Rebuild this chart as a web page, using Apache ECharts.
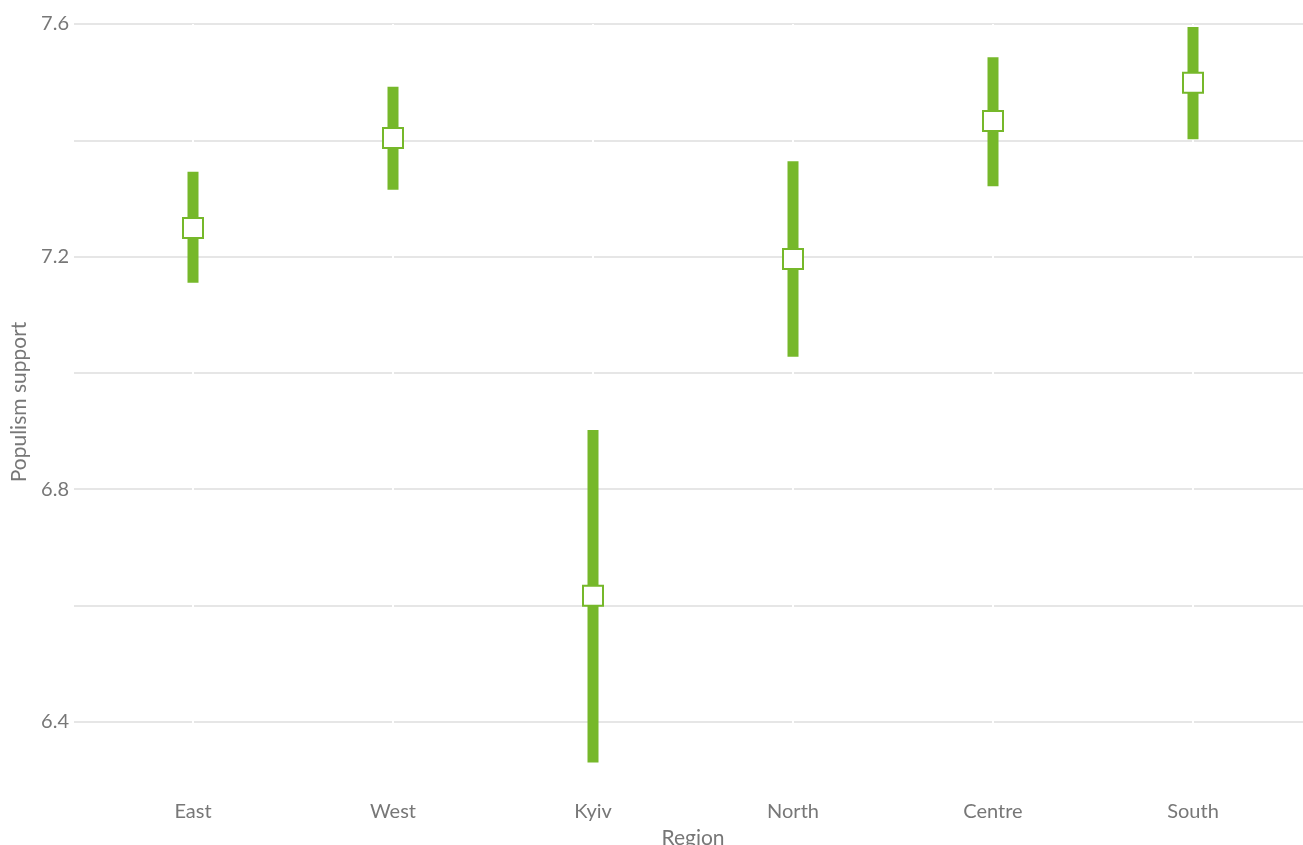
<!DOCTYPE html>
<html>
<head>
<meta charset="utf-8">
<script src="https://cdn.jsdelivr.net/npm/echarts@6/dist/echarts.min.js"></script>
<style>
  html, body { margin: 0; padding: 0; background: #fff; overflow: hidden; }
  #chart { width: 1303px; height: 845px; }
</style>
</head>
<body>
<div id="chart"></div>
<script>
// Regions and estimated populism support with confidence interval bounds
const regions = ['East', 'West', 'Kyiv', 'North', 'Centre', 'South'];
const estimate = [7.249, 7.404, 6.617, 7.196, 7.433, 7.499];
const lower = [7.155, 7.315, 6.330, 7.028, 7.321, 7.402];
const upper = [7.346, 7.492, 6.902, 7.364, 7.543, 7.595];

// Axis ticks: gridlines every 0.2, labels every 0.4
const gridTicks = [6.4, 6.6, 6.8, 7.0, 7.2, 7.4, 7.6];
const labelTicks = [6.4, 6.8, 7.2, 7.6];

const green = '#76b82a';
const textColor = '#777777';
const fontFamily = 'Lato, "Open Sans", sans-serif';

const positions = regions.map((_, i) => i);

const chart = echarts.init(document.getElementById('chart'));
chart.setOption({
  animation: false,
  backgroundColor: '#ffffff',
  grid: {
    left: 74, right: -9, top: 24, bottom: 65,
    containLabel: false,
    outerBoundsMode: 'none'
  },
  xAxis: {
    type: 'value',
    min: -0.595,
    max: 5.595,
    z: 1,
    name: 'Region',
    nameLocation: 'middle',
    nameGap: 48,
    nameTextStyle: { color: textColor, fontSize: 21, fontFamily: fontFamily, verticalAlign: 'top' },
    axisLine: { show: false },
    axisTick: { show: false, customValues: positions },
    axisLabel: {
      customValues: positions,
      color: textColor,
      fontSize: 20,
      fontFamily: fontFamily,
      margin: 22,
      formatter: v => regions[Math.round(v)]
    },
    splitLine: { show: true, lineStyle: { color: '#ffffff', width: 2 } }
  },
  yAxis: {
    type: 'value',
    min: 6.3,
    max: 7.6,
    z: 0,
    name: 'Populism support',
    nameLocation: 'middle',
    nameRotate: 90,
    nameGap: 44,
    nameTextStyle: { color: textColor, fontSize: 21, fontFamily: fontFamily },
    axisLine: { show: false },
    axisTick: { show: false, customValues: gridTicks },
    axisLabel: {
      customValues: labelTicks,
      color: textColor,
      fontSize: 20,
      fontFamily: fontFamily,
      margin: 5,
      formatter: v => v.toFixed(1)
    },
    splitLine: { show: true, lineStyle: { color: '#e6e6e6', width: 2 } }
  },
  series: [
    {
      // confidence interval bars
      type: 'custom',
      z: 2,
      data: positions.map(i => [i, lower[i], upper[i]]),
      encode: { x: 0, y: [1, 2] },
      renderItem: function (params, api) {
        const lo = api.coord([api.value(0), api.value(1)]);
        const hi = api.coord([api.value(0), api.value(2)]);
        const w = 11;
        return {
          type: 'rect',
          shape: { x: lo[0] - w / 2, y: hi[1], width: w, height: lo[1] - hi[1] },
          style: { fill: green }
        };
      }
    },
    {
      // point estimates
      type: 'scatter',
      z: 3,
      symbol: 'rect',
      symbolSize: 20,
      itemStyle: { color: '#ffffff', borderColor: green, borderWidth: 2, opacity: 1 },
      data: positions.map(i => [i, estimate[i]])
    }
  ]
});
</script>
</body>
</html>
